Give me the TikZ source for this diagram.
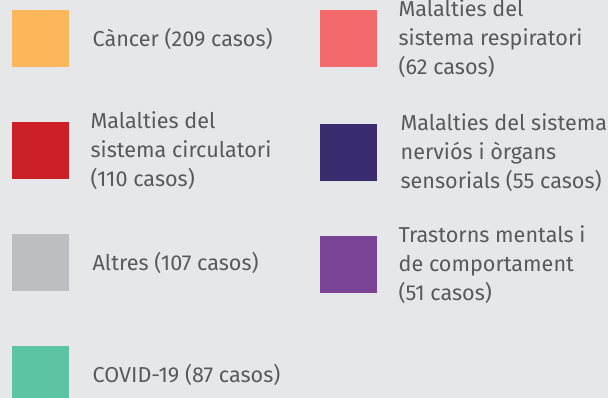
\documentclass[tikz,border=0pt]{standalone}
\usepackage{fontspec}
\setmainfont{Fira Sans}
\usepackage{tikz}
\usetikzlibrary{positioning}
\definecolor{bggrey}{HTML}{E6E7E9}
\definecolor{txtgrey}{HTML}{58595B}
\definecolor{cancer}{HTML}{FDB75B}
\definecolor{circul}{HTML}{CC1F27}
\definecolor{respir}{HTML}{F4696B}
\definecolor{nervi}{HTML}{3A2A6E}
\definecolor{altres}{HTML}{BDBEC1}
\definecolor{covid}{HTML}{5CC3A5}
\definecolor{mental}{HTML}{7B4396}

\begin{document}
\begin{tikzpicture}[x=1pt, y=-1pt]
\tikzstyle{swatch}=[rectangle, minimum width = 57pt, minimum height = 57pt, inner sep = 0pt, anchor = north west]
\tikzstyle{label}=[text = txtgrey, align = left, inner sep = 0pt, font = \fontsize{21.6}{29}\selectfont, right = 22pt]

  \fill[bggrey] (0,0) rectangle (608,398);
  \clip (0,0) rectangle (608,398);

  % left column
  \node[swatch, fill = cancer] (cancer)  at (12,10)  {};
  \node[swatch, fill = circul] (circul)  at (12,122) {};
  \node[swatch, fill = altres] (altres)  at (12,234) {};
  \node[swatch, fill = covid]  (covid)   at (12,346) {};

  % right column
  \node[swatch, fill = respir] (respir)  at (320,10)  {};
  \node[swatch, fill = nervi]  (nervi)   at (320,124) {};
  \node[swatch, fill = mental] (mental)  at (320,236) {};

  \node[label] (tcancer) [right = 23pt of cancer] {Càncer (209 casos)};
  \node[label] (tcircul) [right = 21pt of circul] {Malalties del\\sistema circulatori\\(110 casos)};
  \node[label] (taltres) [right = 23pt of altres] {Altres (107 casos)};
  \node[label] (tcovid)  [right = 23pt of covid]  {COVID-19 (87 casos)};

  \node[label] (trespir) [right = 21pt of respir] {Malalties del\\sistema respiratori\\(62 casos)};
  \node[label] (tnervi)  [right = 23pt of nervi]  {Malalties del sistema\\nerviós i òrgans\\sensorials (55 casos)};
  \node[label] (tmental) [right = 21pt of mental] {Trastorns mentals i\\de comportament\\(51 casos)};

\end{tikzpicture}
\end{document}
